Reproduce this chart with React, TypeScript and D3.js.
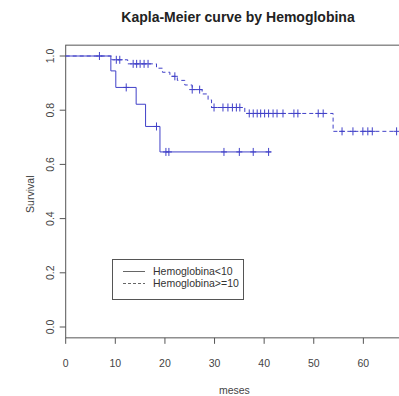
import { useEffect, useRef } from "react";
import { scaleLinear, select, line, curveStepAfter } from "d3";

// Hemoglobina<10 (solid)
const lowTimes = [0, 9.1, 10.1, 14.2, 16.1, 19.0];
const lowSurv = [1, 0.945, 0.884, 0.822, 0.74, 0.646];
const lowCensor = [12.2, 18.3, 20.2, 20.8, 31.9, 35.0, 37.8, 40.9];
const lowEnd = 41.4;

// Hemoglobina>=10 (dashed)
const highTimes = [0, 9.3, 12.5, 18.3, 19.5, 21.0, 22.5, 24.0, 25.5, 27.5, 28.7, 29.4, 36.1, 53.9];
const highSurv = [1, 0.986, 0.971, 0.955, 0.94, 0.925, 0.91, 0.893, 0.876, 0.86, 0.838, 0.81, 0.788, 0.722];
const highCensor = [
  6.8, 10.2, 10.9, 13.6, 14.3, 15.0, 15.8, 16.6, 22.0, 25.5, 27.0, 29.9, 31.7, 32.7, 33.6,
  34.4, 35.1, 37.0, 37.8, 38.6, 39.3, 40.1, 40.9, 41.8, 42.6, 43.8, 46.0, 46.8, 50.9, 51.9,
  55.7, 57.9, 59.9, 60.9, 61.8, 66.7,
];
const highEnd = 66.7;

const xTicks = [0, 10, 20, 30, 40, 50, 60];
const yTicks = [0, 0.2, 0.4, 0.6, 0.8, 1.0];
const legendLabels = ["Hemoglobina<10", "Hemoglobina>=10"];

const survAt = (times: number[], surv: number[], t: number) => {
  let s = surv[0];
  for (let i = 0; i < times.length; i++) if (times[i] <= t) s = surv[i];
  return s;
};

const drawKM = (ref: SVGSVGElement) => {
  const svg = select(ref);
  svg.selectAll("*").remove();
  const font = "'Liberation Sans', Arial, sans-serif";
  const col = "#4040c8";
  const axisCol = "#555";

  const x = scaleLinear().domain([0, 69.4]).range([65.7, 410]);
  const y = scaleLinear().domain([0, 1]).range([327, 56]);
  const top = y(1.04);
  const bottom = y(-0.04);

  svg
    .append("text")
    .attr("x", 238)
    .attr("y", 22)
    .attr("text-anchor", "middle")
    .attr("font-family", font)
    .attr("font-weight", 700)
    .attr("font-size", 14)
    .attr("fill", "#222")
    .text("Kapla-Meier curve by Hemoglobina");

  // box
  svg
    .append("rect")
    .attr("x", x(0))
    .attr("y", top)
    .attr("width", x(69.4) - x(0))
    .attr("height", bottom - top)
    .attr("fill", "none")
    .attr("stroke", axisCol);

  // x axis
  const gx = svg.append("g");
  xTicks.forEach((t) => {
    gx.append("line")
      .attr("x1", x(t))
      .attr("x2", x(t))
      .attr("y1", bottom)
      .attr("y2", bottom + 6)
      .attr("stroke", axisCol);
    gx.append("text")
      .attr("x", x(t))
      .attr("y", 367)
      .attr("text-anchor", "middle")
      .attr("font-family", font)
      .attr("font-size", 10.5)
      .attr("fill", "#444")
      .text(t);
  });
  svg
    .append("text")
    .attr("x", x(34))
    .attr("y", 394)
    .attr("text-anchor", "middle")
    .attr("font-family", font)
    .attr("font-size", 10.5)
    .attr("fill", "#444")
    .text("meses");

  // y axis
  const gy = svg.append("g");
  yTicks.forEach((t) => {
    gy.append("line")
      .attr("x1", x(0) - 6)
      .attr("x2", x(0))
      .attr("y1", y(t))
      .attr("y2", y(t))
      .attr("stroke", axisCol);
    gy.append("text")
      .attr("transform", `translate(54,${y(t)}) rotate(-90)`)
      .attr("text-anchor", "middle")
      .attr("font-family", font)
      .attr("font-size", 10.5)
      .attr("fill", "#444")
      .text(t.toFixed(1));
  });
  svg
    .append("text")
    .attr("transform", `translate(34,${y(0.49)}) rotate(-90)`)
    .attr("text-anchor", "middle")
    .attr("font-family", font)
    .attr("font-size", 10.5)
    .attr("fill", "#444")
    .text("Survival");

  const plot = svg.append("g");
  const series = [
    { times: lowTimes, surv: lowSurv, censor: lowCensor, end: lowEnd, dash: null },
    { times: highTimes, surv: highSurv, censor: highCensor, end: highEnd, dash: "4,3" },
  ];
  const path = line<[number, number]>()
    .x((d) => x(d[0]))
    .y((d) => y(d[1]))
    .curve(curveStepAfter);

  series.forEach((s) => {
    const pts: [number, number][] = s.times.map((t, i) => [t, s.surv[i]]);
    pts.push([s.end, s.surv[s.surv.length - 1]]);
    plot
      .append("path")
      .attr("d", path(pts))
      .attr("fill", "none")
      .attr("stroke", col)
      .attr("stroke-width", 1)
      .attr("stroke-dasharray", s.dash);
    s.censor.forEach((c) => {
      const cx = x(c);
      const cy = y(survAt(s.times, s.surv, c));
      plot
        .append("path")
        .attr("d", `M${cx - 3},${cy}H${cx + 3}M${cx},${cy - 4}V${cy + 4}`)
        .attr("stroke", col)
        .attr("stroke-width", 1);
    });
  });

  // legend
  const lg = svg.append("g");
  lg.append("rect")
    .attr("x", 112.5)
    .attr("y", 259.5)
    .attr("width", 131)
    .attr("height", 40)
    .attr("fill", "white")
    .attr("stroke", axisCol);
  legendLabels.forEach((lab, i) => {
    const ly = 271.5 + i * 12;
    lg.append("line")
      .attr("x1", 123)
      .attr("x2", 145)
      .attr("y1", ly)
      .attr("y2", ly)
      .attr("stroke", "#666")
      .attr("stroke-dasharray", i === 1 ? "3,2" : null);
    lg.append("text")
      .attr("x", 153)
      .attr("y", ly + 3.8)
      .attr("font-family", font)
      .attr("font-size", 10.5)
      .attr("fill", "#333")
      .text(lab);
  });
};

export default function App() {
  const ref = useRef<SVGSVGElement>(null);

  useEffect(() => {
    if (ref.current) drawKM(ref.current);
  }, []);

  return (
    <svg
      ref={ref}
      width={399}
      height={396}
      style={{ position: "absolute", left: 0, top: 0, background: "white" }}
    />
  );
}
